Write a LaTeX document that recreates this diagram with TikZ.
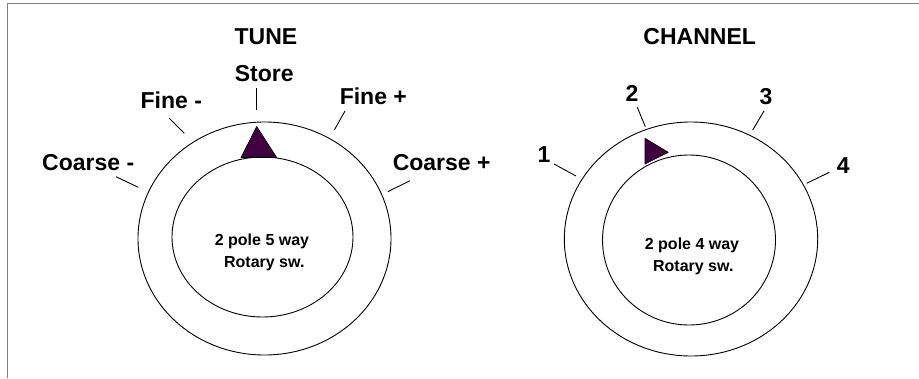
\documentclass[tikz,border=0pt]{standalone}
\usepackage{fontspec}
\setmainfont{Liberation Sans}
\definecolor{knob}{RGB}{64,0,64}
\definecolor{frame}{RGB}{128,128,128}

\begin{document}
\begin{tikzpicture}[x=1pt,y=-1pt,
    lbl/.style={anchor=base,inner sep=0pt,font=\fontsize{23}{27}\selectfont\bfseries},
    swtext/.style={anchor=base,inner sep=0pt,font=\fontsize{16}{19}\selectfont\bfseries},
    tick/.style={line width=0.9pt},
    dial/.style={line width=0.9pt},
    pointer/.style={fill=knob,draw=black,line width=0.6pt,line join=round}]
            \useasboundingbox (0,0) rectangle (919,378);
            % frame
            \draw[frame,line width=1pt] (7.5,378) -- (7.5,3.5) -- (919,3.5);
            % tune switch
            \node[lbl] (tune) at (266,44) {TUNE};
            \draw[dial] (264.5,238.5) ellipse [x radius=126.5,y radius=116.5];
            \draw[dial] (262.5,237) ellipse [x radius=90.5,y radius=80];
            \draw[pointer] (256.7,126.5) -- (241,157.5) -- (276.7,157.5) -- cycle;
            \node[swtext] (tunea) at (262,245) {2 pole 5 way};
            \node[swtext] (tuneb) at (264.3,267.7) {Rotary sw.};
            \node[lbl] (store) at (264.2,81.7) {Store};
            \node[lbl] (finem) at (171.3,108.3) {Fine -};
            \node[lbl] (finep) at (373.3,104.3) {Fine +};
            \node[lbl] (coarsem) at (88.2,170) {Coarse -};
            \node[lbl] (coarsep) at (441.7,170) {Coarse +};
            \draw[tick] (256.7,88.3) -- (256.7,110);
            \draw[tick] (169.3,118.3) -- (184.3,133.3);
            \draw[tick] (345,111) -- (334.3,130);
            \draw[tick] (116,176.7) -- (138.3,187.3);
            \draw[tick] (410,180.7) -- (387.7,191.7);
            % channel switch
            \node[lbl] (channel) at (699.7,44) {CHANNEL};
            \draw[dial] (691,239) ellipse [x radius=126.7,y radius=117];
            \draw[dial] (689,240) ellipse [x radius=86.5,y radius=85];
            \draw[pointer] (645,138.3) -- (668.3,152.3) -- (645,164) -- cycle;
            \node[swtext] (chana) at (692,249.3) {2 pole 4 way};
            \node[swtext] (chanb) at (693.3,271.7) {Rotary sw.};
            \node[lbl] (one) at (544,162.7) {1};
            \node[lbl] (two) at (632,101.7) {2};
            \node[lbl] (three) at (766,104.3) {3};
            \node[lbl] (four) at (843.3,173.3) {4};
            \draw[tick] (554,164) -- (576,176);
            \draw[tick] (637.3,107.3) -- (645.3,126.7);
            \draw[tick] (764,111) -- (752.7,130);
            \draw[tick] (829.3,172.3) -- (806.7,183.3);
        \end{tikzpicture}
\end{document}
